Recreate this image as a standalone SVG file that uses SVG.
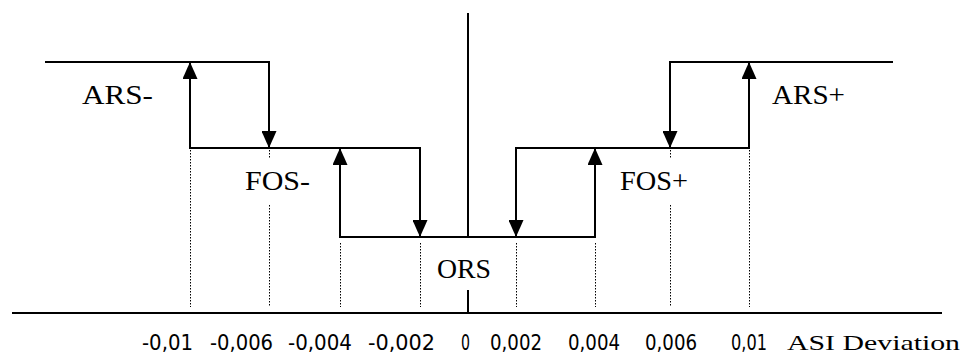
<svg xmlns="http://www.w3.org/2000/svg" width="964" height="355" viewBox="0 0 964 355">
<style>
.ln{stroke:#000;stroke-width:2;fill:none}
.dot{stroke:#000;stroke-width:1;stroke-dasharray:1.5 1.5;fill:none}
.lbl{font-family:"Liberation Serif","DejaVu Serif",serif;font-size:27px;fill:#000}
.num{font-family:"DejaVu Sans Condensed","Liberation Sans",sans-serif;font-size:21px;fill:#000}
.axl{font-family:"Liberation Serif","DejaVu Serif",serif;font-size:22px;fill:#000}
</style>
<defs>
<marker id="ah" viewBox="0 0 17 15" markerWidth="17" markerHeight="15" refX="17" refY="7.5" orient="auto" markerUnits="userSpaceOnUse">
<path d="M0,0 L17,7.5 L0,15 z" fill="#000"/>
</marker>
</defs>
<rect width="964" height="355" fill="#fff"/>
<g id="axes">
<line class="ln" x1="12" y1="313" x2="942" y2="313"/>
<line class="ln" x1="468" y1="13" x2="468" y2="236"/>
<line class="ln" x1="468" y1="290" x2="468" y2="313"/>
</g>
<g id="guides">
<line class="dot" x1="190.5" y1="150" x2="190.5" y2="307"/>
<line class="dot" x1="269.5" y1="150" x2="269.5" y2="158"/>
<line class="dot" x1="269.5" y1="205" x2="269.5" y2="307"/>
<line class="dot" x1="340.5" y1="243" x2="340.5" y2="307"/>
<line class="dot" x1="420.5" y1="243" x2="420.5" y2="307"/>
<line class="dot" x1="516.5" y1="243" x2="516.5" y2="307"/>
<line class="dot" x1="595.5" y1="243" x2="595.5" y2="307"/>
<line class="dot" x1="670.5" y1="150" x2="670.5" y2="158"/>
<line class="dot" x1="670.5" y1="205" x2="670.5" y2="307"/>
<line class="dot" x1="749.5" y1="150" x2="749.5" y2="307"/>
</g>
<g id="levels">
<line class="ln" x1="45" y1="62" x2="270" y2="62"/>
<line class="ln" x1="189" y1="148" x2="421" y2="148"/>
<line class="ln" x1="339" y1="237" x2="596" y2="237"/>
<line class="ln" x1="515" y1="148" x2="750" y2="148"/>
<line class="ln" x1="669" y1="62" x2="893" y2="62"/>
</g>
<g id="connectors">
<line class="ln" x1="190" y1="148" x2="190" y2="62" marker-end="url(#ah)"/>
<line class="ln" x1="269" y1="62" x2="269" y2="148" marker-end="url(#ah)"/>
<line class="ln" x1="340" y1="237" x2="340" y2="148" marker-end="url(#ah)"/>
<line class="ln" x1="420" y1="148" x2="420" y2="237" marker-end="url(#ah)"/>
<line class="ln" x1="516" y1="148" x2="516" y2="237" marker-end="url(#ah)"/>
<line class="ln" x1="595" y1="237" x2="595" y2="148" marker-end="url(#ah)"/>
<line class="ln" x1="670" y1="62" x2="670" y2="148" marker-end="url(#ah)"/>
<line class="ln" x1="749" y1="148" x2="749" y2="62" marker-end="url(#ah)"/>
</g>
<g id="ars-minus"><text class="lbl" x="82" y="104" textLength="71" lengthAdjust="spacingAndGlyphs">ARS-</text></g>
<g id="fos-minus"><text class="lbl" x="245" y="190" textLength="65" lengthAdjust="spacingAndGlyphs">FOS-</text></g>
<g id="ors"><text class="lbl" x="437" y="278" textLength="54" lengthAdjust="spacingAndGlyphs">ORS</text></g>
<g id="fos-plus"><text class="lbl" x="620" y="190" textLength="68" lengthAdjust="spacingAndGlyphs">FOS+</text></g>
<g id="ars-plus"><text class="lbl" x="772" y="104" textLength="73" lengthAdjust="spacingAndGlyphs">ARS+</text></g>
<g id="ticks">
<text class="num" x="142" y="350" textLength="51" lengthAdjust="spacingAndGlyphs">-0,01</text>
<text class="num" x="210" y="350" textLength="63" lengthAdjust="spacingAndGlyphs">-0,006</text>
<text class="num" x="288" y="350" textLength="64" lengthAdjust="spacingAndGlyphs">-0,004</text>
<text class="num" x="368" y="350" textLength="67" lengthAdjust="spacingAndGlyphs">-0,002</text>
<text class="num" x="461" y="350" textLength="9" lengthAdjust="spacingAndGlyphs">0</text>
<text class="num" x="490" y="350" textLength="52" lengthAdjust="spacingAndGlyphs">0,002</text>
<text class="num" x="568" y="350" textLength="52" lengthAdjust="spacingAndGlyphs">0,004</text>
<text class="num" x="645" y="350" textLength="52" lengthAdjust="spacingAndGlyphs">0,006</text>
<text class="num" x="731" y="350" textLength="36" lengthAdjust="spacingAndGlyphs">0,01</text>
<text class="axl" x="787" y="350" textLength="173" lengthAdjust="spacingAndGlyphs">ASI Deviation</text>
</g>
</svg>
